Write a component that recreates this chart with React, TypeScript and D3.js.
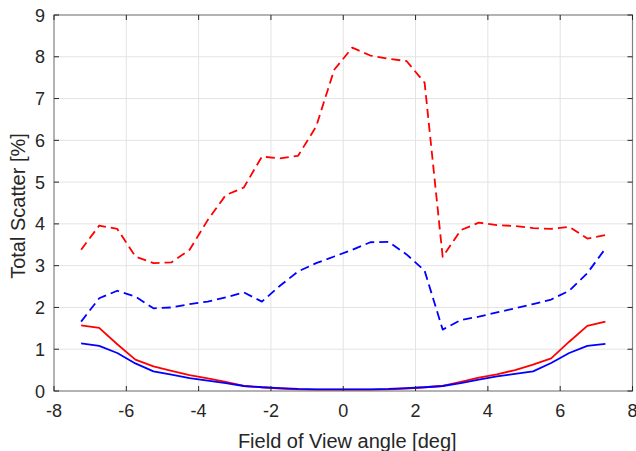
import { useRef, useEffect } from "react";
import * as d3 from "d3";

// field of view angles [deg]
const angles = [
  -7.25, -6.75, -6.25, -5.75, -5.25, -4.75, -4.25, -3.75, -3.25, -2.75,
  -2.25, -1.75, -1.25, -0.75, -0.25, 0.25, 0.75, 1.25, 1.75, 2.25,
  2.75, 3.25, 3.75, 4.25, 4.75, 5.25, 5.75, 6.25, 6.75, 7.25,
];

const redDashed = [
  3.38, 3.96, 3.88, 3.22, 3.06, 3.08, 3.38, 4.09, 4.69, 4.87,
  5.61, 5.57, 5.63, 6.33, 7.69, 8.22, 8.03, 7.95, 7.9, 7.38,
  3.21, 3.85, 4.03, 3.97, 3.95, 3.9, 3.88, 3.93, 3.65, 3.73,
];
const blueDashed = [
  1.66, 2.22, 2.4, 2.26, 1.98, 2.0, 2.08, 2.14, 2.24, 2.36,
  2.14, 2.52, 2.86, 3.06, 3.22, 3.38, 3.56, 3.57, 3.27, 2.88,
  1.47, 1.7, 1.78, 1.88, 1.98, 2.08, 2.19, 2.4, 2.82, 3.41,
];
const redSolid = [
  1.57, 1.51, 1.12, 0.75, 0.59, 0.48, 0.38, 0.3, 0.22, 0.12,
  0.09, 0.06, 0.04, 0.03, 0.03, 0.03, 0.03, 0.04, 0.06, 0.09,
  0.12, 0.22, 0.32, 0.4, 0.5, 0.63, 0.78, 1.18, 1.56, 1.66,
];
const blueSolid = [
  1.14, 1.08, 0.91, 0.66, 0.47, 0.39, 0.31, 0.25, 0.19, 0.12,
  0.09, 0.07, 0.05, 0.04, 0.04, 0.04, 0.04, 0.05, 0.07, 0.09,
  0.12, 0.19, 0.27, 0.35, 0.41, 0.47, 0.67, 0.91, 1.08, 1.13,
];

const xTicks = [-8, -6, -4, -2, 0, 2, 4, 6, 8];
const yTicks = [0, 1, 2, 3, 4, 5, 6, 7, 8, 9];

const series = [
  { values: redDashed, color: "#ff0000", dash: "9,5" },
  { values: blueDashed, color: "#0000ff", dash: "9,5" },
  { values: redSolid, color: "#ff0000", dash: null },
  { values: blueSolid, color: "#0000ff", dash: null },
];

export default function App() {
  const ref = useRef<SVGSVGElement>(null);

  useEffect(() => {
    if (!ref.current) return;
    const svg = d3.select(ref.current);
    svg.selectAll("*").remove();

    const W = 636,
      H = 451;
    const L = 54,
      R = 632.5,
      T = 15,
      B = 391;
    const x = d3.scaleLinear().domain([-8, 8]).range([L, R]);
    const y = d3.scaleLinear().domain([0, 9]).range([B, T]);
    const font = "'Liberation Sans', Arial, sans-serif";
    const textCol = "#262626";
    const axisCol = "#808080";

    svg.attr("width", W).attr("height", H).attr("viewBox", `0 0 ${W} ${H}`);
    svg.append("rect").attr("width", W).attr("height", H).attr("fill", "#fff");

    // grid
    const grid = svg.append("g").attr("stroke", "#e3e3e3").attr("stroke-width", 1);
    xTicks.slice(1, -1).forEach((t) =>
      grid.append("line").attr("x1", x(t)).attr("x2", x(t)).attr("y1", T).attr("y2", B)
    );
    yTicks.slice(1, -1).forEach((t) =>
      grid.append("line").attr("x1", L).attr("x2", R).attr("y1", y(t)).attr("y2", y(t))
    );

    // data lines
    const line = d3
      .line<number>()
      .x((_, i) => x(angles[i]))
      .y((d) => y(d));
    series.forEach((s) => {
      svg
        .append("path")
        .datum(s.values)
        .attr("d", line)
        .attr("fill", "none")
        .attr("stroke", s.color)
        .attr("stroke-width", 1.8)
        .attr("stroke-dasharray", s.dash)
        .attr("stroke-linejoin", "round");
    });

    // box
    svg
      .append("rect")
      .attr("x", L)
      .attr("y", T)
      .attr("width", R - L)
      .attr("height", B - T)
      .attr("fill", "none")
      .attr("stroke", axisCol)
      .attr("stroke-width", 1.2);

    // ticks (inward, all four sides)
    const tk = 5;
    const ticks = svg.append("g").attr("stroke", "#262626").attr("stroke-width", 1);
    xTicks.forEach((t) => {
      ticks.append("line").attr("x1", x(t)).attr("x2", x(t)).attr("y1", B).attr("y2", B - tk);
      ticks.append("line").attr("x1", x(t)).attr("x2", x(t)).attr("y1", T).attr("y2", T + tk);
    });
    yTicks.forEach((t) => {
      ticks.append("line").attr("x1", L).attr("x2", L + tk).attr("y1", y(t)).attr("y2", y(t));
      ticks.append("line").attr("x1", R).attr("x2", R - tk).attr("y1", y(t)).attr("y2", y(t));
    });

    // tick labels
    svg
      .append("g")
      .selectAll("text")
      .data(xTicks)
      .join("text")
      .attr("x", (d) => x(d))
      .attr("y", 417)
      .attr("text-anchor", "middle")
      .attr("font-family", font)
      .attr("font-size", 18)
      .attr("fill", textCol)
      .text((d) => d);
    svg
      .append("g")
      .selectAll("text")
      .data(yTicks)
      .join("text")
      .attr("x", 45)
      .attr("y", (d) => y(d) + 6.5)
      .attr("text-anchor", "end")
      .attr("font-family", font)
      .attr("font-size", 18)
      .attr("fill", textCol)
      .text((d) => d);

    // axis titles
    svg
      .append("text")
      .attr("x", (L + R) / 2 + 4)
      .attr("y", 448)
      .attr("text-anchor", "middle")
      .attr("font-family", font)
      .attr("font-size", 20)
      .attr("fill", textCol)
      .text("Field of View angle [deg]");
    svg
      .append("text")
      .attr("transform", `translate(25,${(T + B) / 2 + 3}) rotate(-90)`)
      .attr("text-anchor", "middle")
      .attr("font-family", font)
      .attr("font-size", 20)
      .attr("fill", textCol)
      .text("Total Scatter [%]");
  }, []);

  return (
    <svg
      ref={ref}
      style={{ display: "block", position: "absolute", left: 0, top: 0 }}
    />
  );
}
